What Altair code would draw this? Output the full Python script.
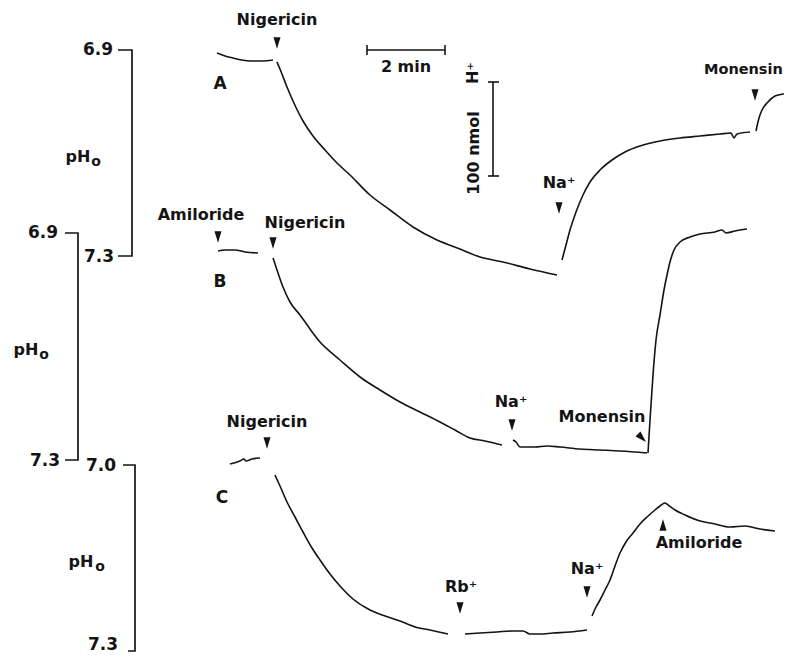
import altair as alt
import pandas as pd

# ---------------- trace values (time position, signal position) ----------------
A_pre = [(217, 53), (225, 56), (233, 58), (242, 60), (250, 61), (262, 61), (273, 60)]
A_nig = [(277, 62), (280, 69), (287, 87), (293, 101), (303, 121), (313, 136), (325, 150),
         (337, 163), (350, 175), (370, 195), (390, 210), (413, 227), (437, 240), (460, 249),
         (480, 257), (503, 262), (530, 269), (557, 275)]
A_na = [(562, 260), (566, 245), (570, 230), (576, 212), (583, 195), (590, 182), (600, 170),
        (612, 160), (625, 152), (640, 146), (660, 141), (680, 138), (700, 136), (720, 134),
        (731, 133), (734, 138), (737, 134), (750, 132)]
A_mon = [(756, 131), (759, 118), (762, 110), (768, 102), (775, 96), (783, 94), (792, 92)]

B_pre = [(218, 251), (225, 250), (235, 250), (245, 252), (258, 253)]
B_nig = [(273, 258), (277, 270), (283, 287), (290, 302), (300, 315), (320, 342), (340, 360),
         (360, 377), (380, 390), (400, 402), (420, 412), (440, 422), (455, 430), (470, 438),
         (485, 441), (502, 445)]
B_na = [(513, 440), (516, 442), (520, 447), (535, 447), (547, 446), (560, 447), (580, 449),
        (600, 450), (620, 451), (647, 453)]
B_mon = [(648, 453), (650, 420), (653, 375), (656, 340), (660, 315), (664, 290), (667, 275),
         (670, 262), (674, 250), (680, 242), (690, 237), (700, 234), (715, 232), (722, 230),
         (726, 233), (735, 231), (747, 229)]

C_pre = [(230, 464), (240, 461), (244, 459), (246, 461), (252, 459), (260, 458)]
C_nig = [(275, 475), (280, 486), (287, 502), (295, 517), (303, 532), (312, 548), (320, 560),
         (330, 574), (340, 586), (353, 599), (370, 610), (385, 616), (400, 621), (415, 627),
         (430, 630), (448, 634)]
C_rb = [(465, 634), (480, 633), (497, 632), (512, 631), (523, 631), (530, 634), (540, 634),
        (553, 633), (570, 632), (587, 630)]
C_na = [(592, 616), (596, 607), (600, 600), (605, 590), (610, 580), (615, 566), (620, 553),
        (626, 542), (633, 533), (640, 524), (647, 517), (655, 510), (660, 506), (665, 503),
        (668, 505), (675, 510), (685, 515), (697, 520), (715, 524), (730, 527), (745, 526),
        (760, 529), (775, 531)]

# ---------------- pH scale brackets ----------------
bracket_A = [(118, 50), (132, 50), (132, 256), (118, 256)]
bracket_B = [(65, 233), (78, 233), (78, 460), (65, 460)]
bracket_C = [(123, 465), (135, 465), (135, 651), (128, 651)]
tick_labels = ["6.9", "7.3", "6.9", "7.3", "7.0", "7.3"]
tick_x = [113, 114, 58, 60, 116, 118]
tick_y = [50, 257, 233, 461, 466, 645]

ph_x = [78, 26, 81]
ph_y = [157, 350, 562]
sub_x = [96, 44, 100]
sub_y = [162, 355, 567]

panel_labels = ["A", "B", "C"]
panel_x = [220, 220, 222]
panel_y = [84, 282, 498]

# ---------------- annotations ----------------
ann_text = ["Nigericin", "Na⁺", "Amiloride", "Nigericin", "Na⁺", "Monensin",
            "Nigericin", "Rb⁺", "Na⁺", "Amiloride", "2 min"]
ann_x = [277, 559, 201, 305, 511, 602, 267, 461, 587, 699, 406]
ann_y = [20, 183, 215, 223, 402, 417, 422, 587, 569, 543, 67]
edge_text = ["Monensin"]
edge_x = [704]
edge_y = [70]

down_x = [277, 559, 755, 218, 273, 512, 267, 460, 587]
down_y = [43, 208, 95, 237, 243, 425, 443, 608, 592]
up_x = [663]
up_y = [525]
diag_x = [642]
diag_y = [438]

# ---------------- scale bars ----------------
bar_x = [367, 367, 445, 493, 488, 488]
bar_x2 = [445, 367, 445, 493, 499, 499]
bar_y = [50, 45, 45, 82, 82, 176]
bar_y2 = [50, 55, 55, 176, 82, 176]
rot_text = ["100 nmol", "H⁺"]
rot_x = [474, 473]
rot_y = [153, 73]

# ---------------- build tables ----------------
segments = {"A_pre": A_pre, "A_nig": A_nig, "A_na": A_na, "A_mon": A_mon,
            "B_pre": B_pre, "B_nig": B_nig, "B_na": B_na, "B_mon": B_mon,
            "C_pre": C_pre, "C_nig": C_nig, "C_rb": C_rb, "C_na": C_na}
rows = []
for name, pts in segments.items():
    for i, (t, s) in enumerate(pts):
        rows.append({"seg": name, "i": i, "t": t, "s": s})
traces = pd.DataFrame(rows)

frows = []
for name, pts in {"bA": bracket_A, "bB": bracket_B, "bC": bracket_C}.items():
    for i, (t, s) in enumerate(pts):
        frows.append({"seg": name, "i": i, "t": t, "s": s})
frames = pd.DataFrame(frows)

W, H = 776, 645
xs = alt.Scale(domain=[8, 784], zero=False, nice=False)
ys = alt.Scale(domain=[8, 653], zero=False, nice=False, reverse=True)
X = lambda f: alt.X(f, type="quantitative", scale=xs, axis=None)
Y = lambda f: alt.Y(f, type="quantitative", scale=ys, axis=None)
INK = "#141414"
FONT = "DejaVu Sans"

trace_layer = alt.Chart(traces).mark_line(color=INK, strokeWidth=1.6, interpolate="monotone").encode(
    x=X("t"), y=Y("s"), detail="seg:N", order="i:Q")
frame_layer = alt.Chart(frames).mark_line(color=INK, strokeWidth=1.7).encode(
    x=X("t"), y=Y("s"), detail="seg:N", order="i:Q")

bars = pd.DataFrame({"x": bar_x, "x2": bar_x2, "y": bar_y, "y2": bar_y2})
bar_layer = alt.Chart(bars).mark_rule(color=INK, strokeWidth=1.6).encode(
    x=X("x"), x2="x2:Q", y=Y("y"), y2="y2:Q")

ticks = pd.DataFrame({"label": tick_labels, "x": tick_x, "y": tick_y})
tick_layer = alt.Chart(ticks).mark_text(font=FONT, fontSize=17, fontWeight="bold", align="right",
                                        baseline="middle", color=INK).encode(
    x=X("x"), y=Y("y"), text="label:N")

ph = pd.DataFrame({"x": ph_x, "y": ph_y, "label": ["pH"] * 3})
ph_layer = alt.Chart(ph).mark_text(font=FONT, fontSize=16, fontWeight="bold", align="center",
                                   baseline="middle", color=INK).encode(
    x=X("x"), y=Y("y"), text="label:N")
sub = pd.DataFrame({"x": sub_x, "y": sub_y, "label": ["o"] * 3})
sub_layer = alt.Chart(sub).mark_text(font=FONT, fontSize=14, fontWeight="bold", align="center",
                                     baseline="middle", color=INK).encode(
    x=X("x"), y=Y("y"), text="label:N")

panels = pd.DataFrame({"label": panel_labels, "x": panel_x, "y": panel_y})
panel_layer = alt.Chart(panels).mark_text(font=FONT, fontSize=17, fontWeight="bold", align="center",
                                          baseline="middle", color=INK).encode(
    x=X("x"), y=Y("y"), text="label:N")

ann = pd.DataFrame({"label": ann_text, "x": ann_x, "y": ann_y})
ann_layer = alt.Chart(ann).mark_text(font=FONT, fontSize=16, fontWeight="bold", align="center",
                                     baseline="middle", color=INK).encode(
    x=X("x"), y=Y("y"), text="label:N")
edge = pd.DataFrame({"label": edge_text, "x": edge_x, "y": edge_y})
edge_layer = alt.Chart(edge).mark_text(font=FONT, fontSize=14.5, fontWeight="bold", align="left",
                                       baseline="middle", color=INK).encode(
    x=X("x"), y=Y("y"), text="label:N")

rot = pd.DataFrame({"label": rot_text, "x": rot_x, "y": rot_y})
rot_layer = alt.Chart(rot).mark_text(font=FONT, fontSize=16, fontWeight="bold", align="center",
                                     baseline="middle", angle=270, color=INK).encode(
    x=X("x"), y=Y("y"), text="label:N")

DOWN = "M-0.62,-1L0.62,-1L0,1Z"
UP = "M-0.62,1L0.62,1L0,-1Z"
down = pd.DataFrame({"x": down_x, "y": down_y})
down_layer = alt.Chart(down).mark_point(shape=DOWN, filled=True, size=130, color=INK, opacity=1,
                                        strokeWidth=0).encode(x=X("x"), y=Y("y"))
up = pd.DataFrame({"x": up_x, "y": up_y})
up_layer = alt.Chart(up).mark_point(shape=UP, filled=True, size=130, color=INK, opacity=1,
                                    strokeWidth=0).encode(x=X("x"), y=Y("y"))
diag = pd.DataFrame({"x": diag_x, "y": diag_y})
diag_layer = alt.Chart(diag).mark_point(shape=DOWN, filled=True, size=130, color=INK, opacity=1,
                                        strokeWidth=0, angle=315).encode(x=X("x"), y=Y("y"))

chart = alt.layer(
    trace_layer, frame_layer, bar_layer, tick_layer, ph_layer, sub_layer, panel_layer,
    ann_layer, edge_layer, rot_layer, down_layer, up_layer, diag_layer
).properties(
    width=W, height=H, autosize=alt.AutoSizeParams(type="none"), padding=0,
    background="white"
).configure_view(stroke=None)

chart.save("out.html", embed_options={"renderer": "svg", "actions": False})
